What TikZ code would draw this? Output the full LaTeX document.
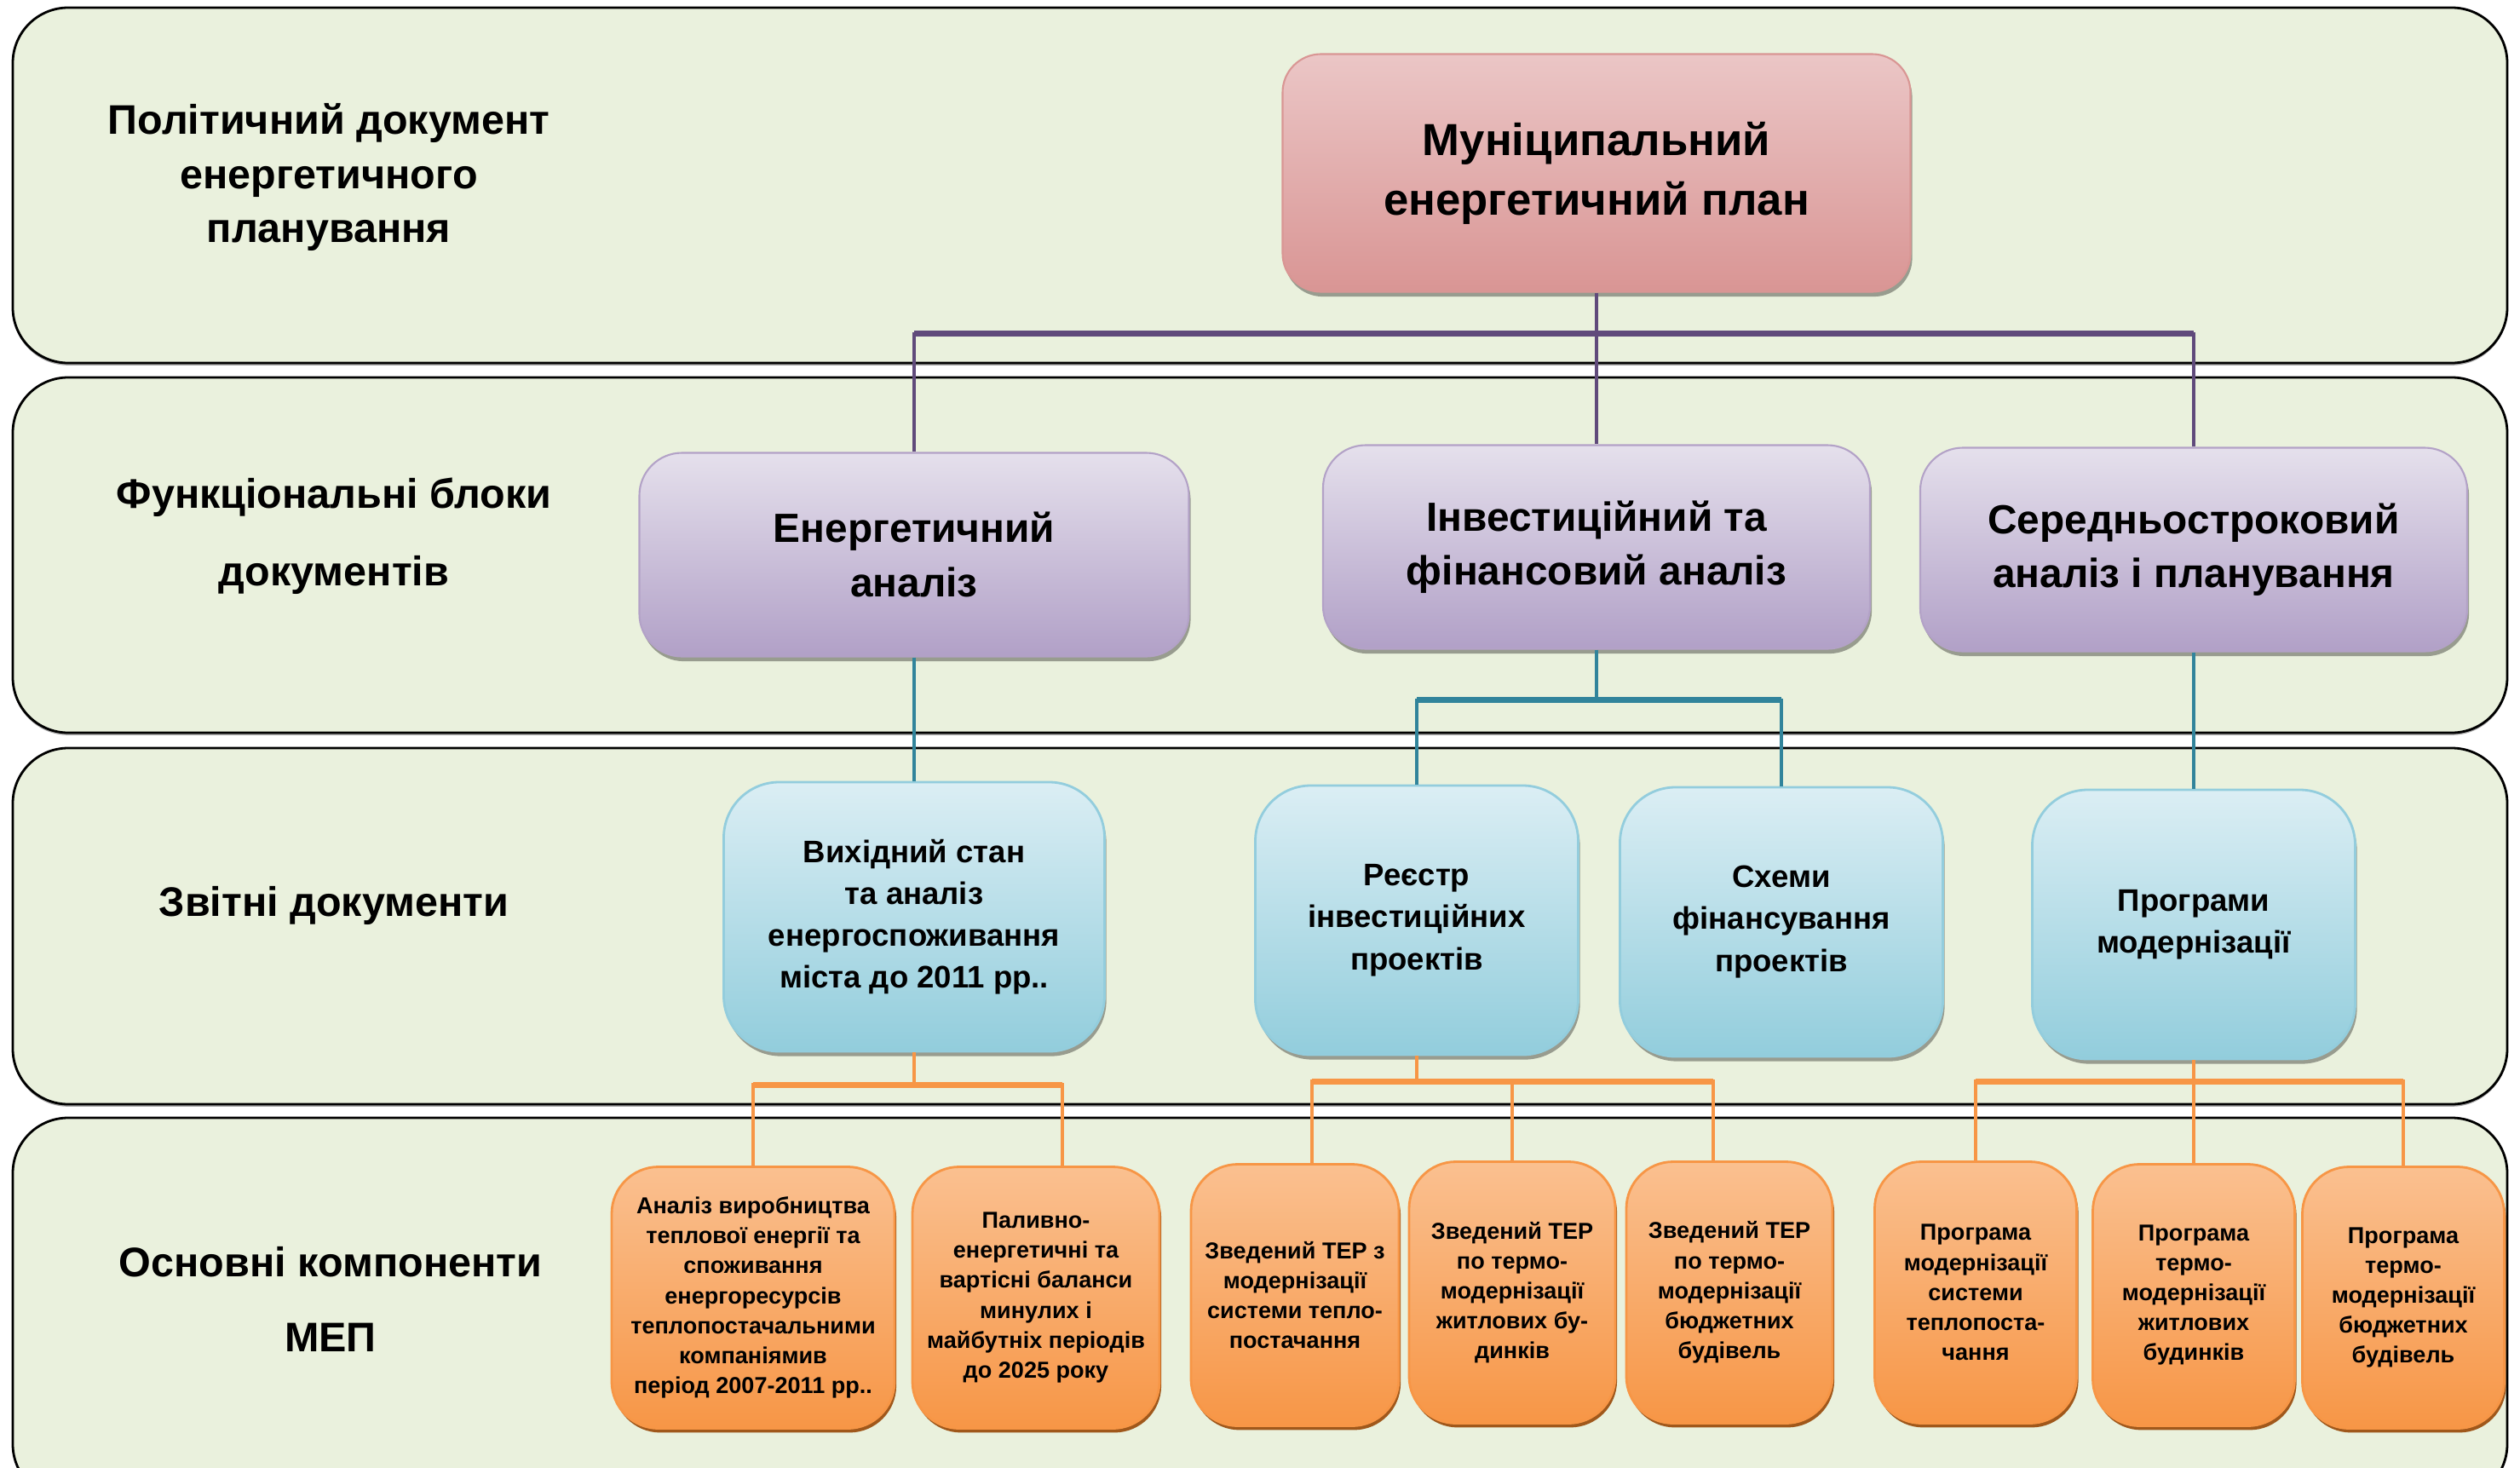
\documentclass[tikz,border=0pt]{standalone}
\usepackage{fontspec}
\setmainfont{Liberation Sans}
\usepackage{xcolor}
\usetikzlibrary{calc,shadows}
\definecolor{bandfill}{HTML}{EAF1DD}
\definecolor{plantop}{HTML}{EBC6C6}
\definecolor{planbot}{HTML}{D99594}
\definecolor{planline}{HTML}{D99694}
\definecolor{blocktop}{HTML}{E5E0EC}
\definecolor{blockbot}{HTML}{B1A0C7}
\definecolor{blockline}{HTML}{B3A2C7}
\definecolor{reptop}{HTML}{DBEEF4}
\definecolor{repbot}{HTML}{92CDDC}
\definecolor{repline}{HTML}{93CDDD}
\definecolor{comptop}{HTML}{FAC090}
\definecolor{compbot}{HTML}{F79646}
\definecolor{compshade}{HTML}{984807}
\definecolor{purpwire}{HTML}{604A7B}
\definecolor{tealwire}{HTML}{31849B}
\definecolor{orwire}{HTML}{F79646}
\tikzstyle{band}=[draw=black, line width=0.8pt, fill=bandfill, rounded corners=0.65cm, drop shadow={shadow xshift=0pt, shadow yshift=-0.8pt, fill=gray, opacity=0.7}]
\tikzstyle{lbl}=[align=center, font=\bfseries\fontsize{13.8}{18}\selectfont]
\tikzstyle{boxshadow}=[drop shadow={shadow xshift=0.6pt, shadow yshift=-1.6pt, fill=black, opacity=0.35}]
\tikzstyle{plan}=[draw=planline, line width=0.6pt, top color=plantop, bottom color=planbot, rounded corners=0.45cm, minimum width=7.37cm, minimum height=2.79cm, align=center, font=\bfseries\fontsize{15}{20}\selectfont, boxshadow]
\tikzstyle{block}=[draw=blockline, line width=0.6pt, top color=blocktop, bottom color=blockbot, rounded corners=0.5cm, minimum width=6.42cm, minimum height=2.39cm, align=center, font=\bfseries\fontsize{13.6}{18}\selectfont, boxshadow]
\tikzstyle{rep}=[draw=repline, line width=0.8pt, top color=reptop, bottom color=repbot, rounded corners=0.65cm, minimum width=3.79cm, minimum height=3.16cm, align=center, font=\bfseries\fontsize{10.4}{14}\selectfont, boxshadow]
\tikzstyle{comp}=[draw=compbot, line width=0.8pt, top color=comptop, bottom color=compbot, rounded corners=0.55cm, minimum width=2.37cm, minimum height=3.07cm, align=center, font=\bfseries\fontsize{7.7}{10}\selectfont, drop shadow={shadow xshift=0.6pt, shadow yshift=-1.4pt, fill=compshade, opacity=0.9}]
\tikzstyle{purp}=[draw=purpwire, line width=1.1pt]
\tikzstyle{teal}=[draw=tealwire, line width=1.1pt]
\tikzstyle{orng}=[draw=orwire, line width=1.1pt]
\begin{document}
\begin{tikzpicture}
\useasboundingbox (0,0) rectangle (29.58,-17.23);
\clip (0,0) rectangle (29.58,-17.23);
\fill[white] (0,0) rectangle (29.58,-17.23);
\foreach \t/\b in {0.09/4.26,4.43/8.60,8.78/12.96,13.12/17.60}
	\draw[band] (0.15,-\t) rectangle (29.43,-\b);

\node[lbl] (l1) at (3.86,-2.08) {Політичний документ\\енергетичного\\планування};
\node[lbl, font=\bfseries\fontsize{13.8}{26}\selectfont] (l2) at (3.92,-6.29) {Функціональні блоки\\документів};
\node[lbl] (l3) at (3.92,-10.63) {Звітні документи};
\node[lbl, font=\bfseries\fontsize{13.8}{25}\selectfont] (l4) at (3.88,-15.25) {Основні компоненти\\МЕП};

\node[plan] (mep) at (18.74,-2.03) {Муніципальний\\енергетичний план};

\node[block, minimum width=6.45cm] (ea) at (10.73,-6.51) {Енергетичний\\аналіз};
\node[block] (ifa) at (18.74,-6.42) {Інвестиційний та\\фінансовий аналіз};
\node[block] (sap) at (25.75,-6.45) {Середньостроковий\\аналіз і планування};

\node[rep, minimum width=4.47cm] (vs) at (10.73,-10.76) {Вихідний стан\\та аналіз\\енергоспоживання\\міста до 2011 рр..};
\node[rep] (rip) at (16.63,-10.80) {Реєстр\\інвестиційних\\проектів};
\node[rep] (sfp) at (20.91,-10.82) {Схеми\\фінансування\\проектів};
\node[rep] (pm) at (25.75,-10.85) {Програми\\модернізації};

\node[comp, minimum width=3.32cm] (o1) at (8.84,-15.23) {Аналіз виробництва\\теплової енергії та\\споживання\\енергоресурсів\\теплопостачальними\\компаніямив\\період 2007-2011 рр..};
\node[comp, minimum width=2.90cm] (o2) at (12.16,-15.23) {Паливно-\\енергетичні та\\вартісні баланси\\минулих і\\майбутніх періодів\\до 2025 року};
\node[comp, minimum width=2.44cm] (o3) at (15.20,-15.20) {Зведений ТЕР з\\модернізації\\системи тепло-\\постачання};
\node[comp, minimum width=2.42cm] (o4) at (17.75,-15.17) {Зведений ТЕР\\по термо-\\модернізації\\житлових бу-\\динків};
\node[comp, minimum width=2.42cm] (o5) at (20.30,-15.17) {Зведений ТЕР\\по термо-\\модернізації\\бюджетних\\будівель};
\node[comp] (o6) at (23.19,-15.17) {Програма\\модернізації\\системи\\теплопоста-\\чання};
\node[comp] (o7) at (25.75,-15.20) {Програма\\термо-\\модернізації\\житлових\\будинків};
\node[comp] (o8) at (28.21,-15.23) {Програма\\термо-\\модернізації\\бюджетних\\будівель};

\coordinate (pj) at ($(mep.south)+(0,-0.48)$);
\coordinate (tj) at ($(ifa.south)+(0,-0.59)$);
\coordinate (aj) at ($(vs.south)+(0,-0.38)$);
\coordinate (bj) at ($(rip.south)+(0,-0.30)$);
\coordinate (cj) at ($(pm.south)+(0,-0.25)$);
\coordinate (o2t) at ($(o2.north)+(0.31,0)$);
\coordinate (o3t) at ($(o3.north)+(0.20,0)$);
\coordinate (o5t) at ($(o5.north)+(-0.19,0)$);

\draw[purp] (mep.south) -- (ifa.north);
\draw[purp] (pj) -| (ea.north);
\draw[purp] (pj) -| (sap.north);
\draw[purp, line width=1.8pt] (ea.north |- pj) -- (sap.north |- pj);

\draw[teal] (ea.south) -- (vs.north);
\draw[teal] (sap.south) -- (pm.north);
\draw[teal] (ifa.south) -- (tj);
\draw[teal] (tj) -| (rip.north);
\draw[teal] (tj) -| (sfp.north);
\draw[teal, line width=1.8pt] (rip.north |- tj) -- (sfp.north |- tj);

\draw[orng] (vs.south) -- (aj);
\draw[orng] (aj) -| (o1.north);
\draw[orng] (aj) -| (o2t);
\draw[orng, line width=1.8pt] (o1.north |- aj) -- (o2t |- aj);
\draw[orng] (rip.south) -- (bj);
\draw[orng] (bj) -| (o3t);
\draw[orng] (o4.north |- bj) -- (o4.north);
\draw[orng] (bj) -| (o5t);
\draw[orng, line width=1.8pt] (o3t |- bj) -- (o5t |- bj);
\draw[orng] (pm.south) -- (o7.north);
\draw[orng] (cj) -| (o6.north);
\draw[orng] (cj) -| (o8.north);
\draw[orng, line width=1.8pt] (o6.north |- cj) -- (o8.north |- cj);
\end{tikzpicture}
\end{document}
